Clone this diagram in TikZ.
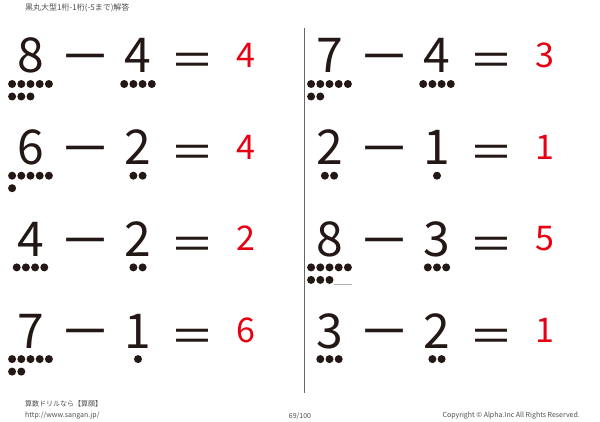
\documentclass[tikz,border=0pt]{standalone}
\usepackage{fontspec}
\setmainfont{Noto Sans CJK JP}
\usepackage{xcolor}
\usepackage{tikz}
\usetikzlibrary{calc}
\definecolor{ink}{HTML}{231815}
\definecolor{ansred}{HTML}{E60012}
\definecolor{notegray}{HTML}{4D4D4D}
\tikzstyle{digit}=[font=\fontsize{48}{48}\selectfont, text=ink, inner sep=0pt, anchor=base]
\tikzstyle{minus}=[font=\fontsize{52}{52}\selectfont, text=ink, inner sep=0pt, anchor=center]
\tikzstyle{equals}=[font=\fontsize{44}{44}\selectfont, text=ink, inner sep=0pt, anchor=center]
\tikzstyle{answer}=[font=\fontsize{34}{34}\selectfont, text=ansred, inner sep=0pt, anchor=base]
\tikzstyle{bigdot}=[circle, fill=ink, minimum size=8pt, inner sep=0pt]
\tikzstyle{smallnote}=[font=\fontsize{7}{7}\selectfont, text=notegray, inner sep=0pt]
\tikzstyle{divider}=[draw=black!60, line width=1pt]

\begin{document}
\begin{tikzpicture}[x=1pt, y=-1pt]

  \useasboundingbox (0,0) rectangle (600,422);

  \def\s{9.2};
  \def\gap{91.7};

  \node[smallnote, anchor=west, font=\fontsize{8}{8}\selectfont] (title) at (25, 8) {黒丸大型1桁-1桁(-5まで)解答};

  \draw[divider] (304, 28) -- (304, 393);

  \foreach \name/\cl/\rw/\na/\nb/\res in {L1/0/0/8/4/4, L2/0/1/6/2/4, L3/0/2/4/2/2, L4/0/3/7/1/6, R1/1/0/7/4/3, R2/1/1/2/1/1, R3/1/2/8/3/5, R4/1/3/3/2/1} {
    \pgfmathsetmacro\ox{\cl*299}
    \pgfmathsetmacro\by{73+\rw*\gap}
    \node[digit] (\name-a) at (\ox+30.5, \by) {\na};
    \node[minus] (\name-m) at (\ox+85, \by-8) {－};
    \node[digit] (\name-b) at (\ox+138, \by) {\nb};
    \node[equals] (\name-e) at (\ox+192, \by-7.7) {＝};
    \node[answer] (\name-c) at (\ox+245.5, \by-5.5) {\res};
    % dots under the first number
    \foreach \k in {1,...,\na} {
      \pgfmathtruncatemacro\m{min(\na,5)}
      \pgfmathtruncatemacro\pos{\k>5 ? \k-5 : \k}
      \pgfmathsetmacro\dotx{\ox+30.5+(\pos-(\m+1)/2)*\s}
      \pgfmathsetmacro\doty{\by+11+(\k>5 ? 12.5 : 0)}
      \node[bigdot] (\name-a\k) at (\dotx, \doty) {};
    }
    % dots under the second number
    \foreach \k in {1,...,\nb} {
      \pgfmathsetmacro\dotx{\ox+138+(\k-(\nb+1)/2)*\s}
      \node[bigdot] (\name-b\k) at (\dotx, \by+11) {};
    }
  }

  \draw[black!30, line width=0.6pt] (R3-a8.east |- R3-a8.south) -- (R3-a5.east |- R3-a8.south);

  \node[smallnote, anchor=west] (brand) at (25, 404) {算数ドリルなら【算願】};
  \node[smallnote, anchor=west] (url) at (25, 416) {http://www.sangan.jp/};
  \node[smallnote] (page) at (300, 416) {69/100};
  \node[smallnote, anchor=east] (copy) at (580, 416) {Copyright © Alpha.Inc All Rights Reserved.};

\end{tikzpicture}
\end{document}
